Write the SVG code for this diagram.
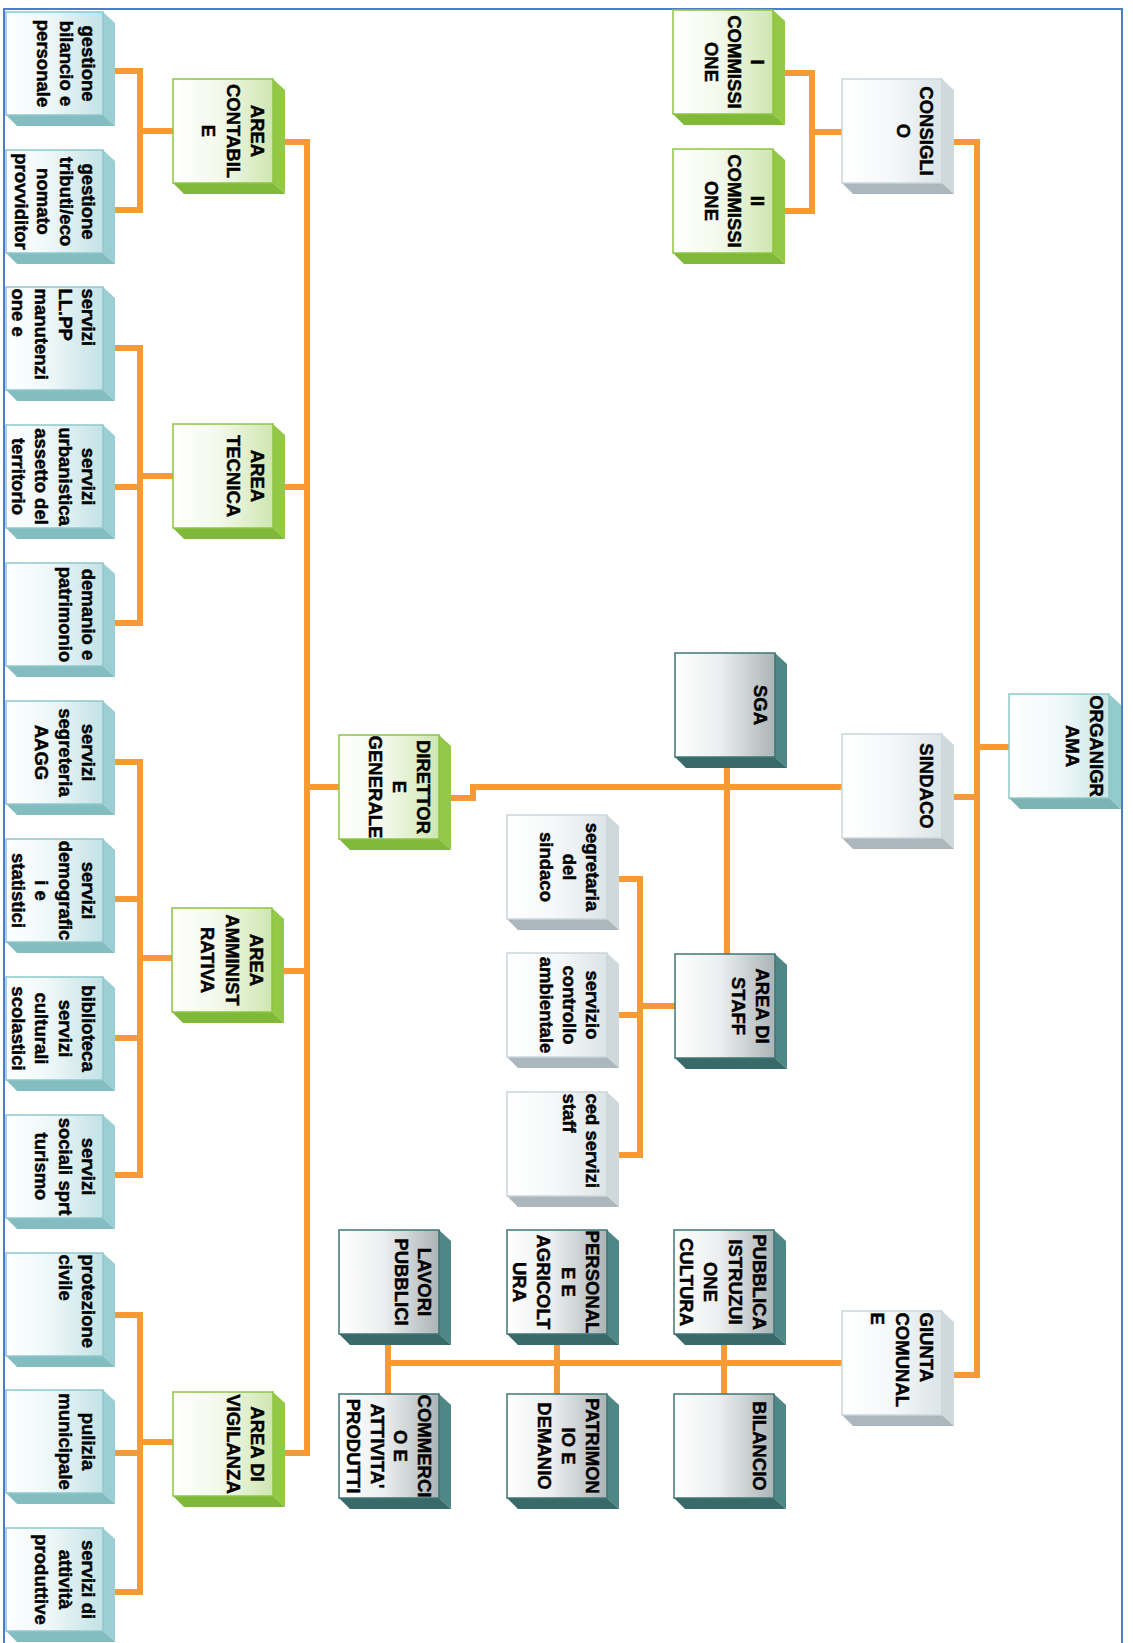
<svg xmlns="http://www.w3.org/2000/svg" xmlns:xlink="http://www.w3.org/1999/xlink" width="1133" height="1643" viewBox="0 0 1133 1643">
<defs>
<style>
.t{font-family:"Liberation Sans",Arial,Helvetica,sans-serif;font-weight:bold;font-size:18.5px;fill:#000;stroke:#000;stroke-width:0.45;text-anchor:middle}
.s{text-anchor:start}
.con{fill:none;stroke:#F59A35;stroke-width:6;stroke-linejoin:miter;stroke-linecap:butt}
.border{fill:none;stroke:#4A7ECB;stroke-width:2}
</style>
<linearGradient id="gGreen" x1="0" y1="0" x2="1" y2="0"><stop offset="0" stop-color="#ffffff"/><stop offset="0.45" stop-color="#f4f9ec"/><stop offset="1" stop-color="#cfe6b0"/></linearGradient>
<linearGradient id="gLeaf" x1="0" y1="0" x2="1" y2="0"><stop offset="0" stop-color="#ffffff"/><stop offset="0.45" stop-color="#eef7f8"/><stop offset="1" stop-color="#c3e2e5"/></linearGradient>
<linearGradient id="gWhite" x1="0" y1="0" x2="1" y2="0"><stop offset="0" stop-color="#ffffff"/><stop offset="0.5" stop-color="#f5f8f9"/><stop offset="1" stop-color="#dce4e7"/></linearGradient>
<linearGradient id="gOrg" x1="0" y1="0" x2="1" y2="0"><stop offset="0" stop-color="#ffffff"/><stop offset="0.5" stop-color="#f1f8f8"/><stop offset="1" stop-color="#c9e6e6"/></linearGradient>
<linearGradient id="gDark" x1="0" y1="0" x2="1" y2="0"><stop offset="0" stop-color="#ffffff"/><stop offset="0.45" stop-color="#eceeef"/><stop offset="1" stop-color="#abb4b6"/></linearGradient>
<g id="bGreen"><polygon points="100,0 112,11 112,115 100,104" fill="#94c948"/><polygon points="0,104 100,104 112,115 11,115" fill="#80b83a"/><rect x="0" y="0" width="100" height="104" fill="url(#gGreen)" stroke="#8cc540" stroke-width="1.5"/></g>
<g id="bLeaf"><polygon points="97,0 109,11 109,114 97,103" fill="#9ccfd3"/><polygon points="0,103 97,103 109,114 11,114" fill="#84bdc1"/><rect x="0" y="0" width="97" height="103" fill="url(#gLeaf)" stroke="#8fc8cc" stroke-width="1.5"/></g>
<g id="bWhite"><polygon points="100,0 112,11 112,115 100,104" fill="#cfd9dc"/><polygon points="0,104 100,104 112,115 11,115" fill="#abb7bc"/><rect x="0" y="0" width="100" height="104" fill="url(#gWhite)" stroke="#cbd6da" stroke-width="1.5"/></g>
<g id="bOrg"><polygon points="100,0 112,11 112,115 100,104" fill="#92cbcb"/><polygon points="0,104 100,104 112,115 11,115" fill="#7bb3b3"/><rect x="0" y="0" width="100" height="104" fill="url(#gOrg)" stroke="#8fc9c9" stroke-width="1.5"/></g>
<g id="bDark"><polygon points="100,0 112,11 112,115 100,104" fill="#4f8686"/><polygon points="0,104 100,104 112,115 11,115" fill="#386a6a"/><rect x="0" y="0" width="100" height="104" fill="url(#gDark)" stroke="#3f7575" stroke-width="1.5"/></g>
</defs>
<rect x="0" y="0" width="1133" height="1643" fill="#ffffff"/>
<path class="border" d="M4,1643 V9 H1122 V1643"/>

<g id="connectors">
<path class="con" d="M115,71 H140 V210 H115 M140,131 H173"/>
<path class="con" d="M115,348 H140 V623 H115 M115,487 H140 M140,476 H173"/>
<path class="con" d="M115,762 H140 V1175 H115 M115,899 H140 M115,1038 H140 M140,958 H172"/>
<path class="con" d="M115,1315 H140 V1592 H115 M115,1453 H140 M140,1442 H173"/>
<path class="con" d="M285,142 H307 V1453 H285 M285,487 H307 M284,971 H307 M307,787 H339"/>
<path class="con" d="M451,798 H473 V787 H842"/>
<path class="con" d="M727,768 V954"/>
<path class="con" d="M675,1006 H640 M619,879 H640 V1155 H619 M619,1015 H640"/>
<path class="con" d="M954,142 H977 V1375 H954 M977,747 H1009 M954,797 H977"/>
<path class="con" d="M842,132 H812 M785,73 H812 V211 H785"/>
<path class="con" d="M842,1363 H388 M388,1345 V1394 M557,1345 V1394 M724,1345 V1394"/>
</g>

<g id="n-organigramma"><use xlink:href="#bOrg" x="1009" y="694"/><text class="t" transform="translate(1090,746) rotate(90)"><tspan x="0" dy="0">ORGANIGR</tspan><tspan x="0" dy="24">AMA</tspan></text></g>
<g id="n-consiglio"><use xlink:href="#bWhite" x="842" y="79"/><text class="t" transform="translate(920,131) rotate(90)"><tspan x="0" dy="0">CONSIGLI</tspan><tspan x="0" dy="23">O</tspan></text></g>
<g id="n-commissione1"><use xlink:href="#bGreen" x="673" y="10"/><text class="t" transform="translate(751,62) rotate(90)"><tspan x="0" dy="0">I</tspan><tspan x="0" dy="23">COMMISSI</tspan><tspan x="0" dy="23">ONE</tspan></text></g>
<g id="n-commissione2"><use xlink:href="#bGreen" x="673" y="149"/><text class="t" transform="translate(751,201) rotate(90)"><tspan x="0" dy="0">II</tspan><tspan x="0" dy="23">COMMISSI</tspan><tspan x="0" dy="23">ONE</tspan></text></g>
<g id="n-sindaco"><use xlink:href="#bWhite" x="842" y="734"/><text class="t" transform="translate(920,786) rotate(90)"><tspan x="0" dy="0">SINDACO</tspan></text></g>
<g id="n-giunta"><use xlink:href="#bWhite" x="842" y="1311"/><text class="t s" transform="translate(920,1312.5) rotate(90)"><tspan x="0" dy="0">GIUNTA</tspan><tspan x="0" dy="24.5">COMUNAL</tspan><tspan x="0" dy="24.5">E</tspan></text></g>
<g id="n-sga"><use xlink:href="#bDark" x="675" y="653"/><text class="t" transform="translate(754,705) rotate(90)"><tspan x="0" dy="0">SGA</tspan></text></g>
<g id="n-staff"><use xlink:href="#bDark" x="675" y="954"/><text class="t" transform="translate(756,1006) rotate(90)"><tspan x="0" dy="0">AREA DI</tspan><tspan x="0" dy="24">STAFF</tspan></text></g>
<g id="n-segretaria"><use xlink:href="#bWhite" x="507" y="815"/><text class="t" transform="translate(586,867) rotate(90)"><tspan x="0" dy="0">segretaria</tspan><tspan x="0" dy="23">del</tspan><tspan x="0" dy="23">sindaco</tspan></text></g>
<g id="n-ambientale"><use xlink:href="#bWhite" x="507" y="953"/><text class="t" transform="translate(586,1005) rotate(90)"><tspan x="0" dy="0">servizio</tspan><tspan x="0" dy="23">controllo</tspan><tspan x="0" dy="23">ambientale</tspan></text></g>
<g id="n-ced"><use xlink:href="#bWhite" x="507" y="1092"/><text class="t s" transform="translate(586,1093.5) rotate(90)"><tspan x="0" dy="0">ced servizi</tspan><tspan x="0" dy="23">staff</tspan></text></g>
<g id="n-pubblica"><use xlink:href="#bDark" x="674" y="1230"/><text class="t" transform="translate(753,1282) rotate(90)"><tspan x="0" dy="0">PUBBLICA</tspan><tspan x="0" dy="24.3">ISTRUZUI</tspan><tspan x="0" dy="24.3">ONE</tspan><tspan x="0" dy="24.3">CULTURA</tspan></text></g>
<g id="n-personale"><use xlink:href="#bDark" x="507" y="1230"/><text class="t" transform="translate(586,1282) rotate(90)"><tspan x="0" dy="0">PERSONAL</tspan><tspan x="0" dy="24.3">E E</tspan><tspan x="0" dy="24.3">AGRICOLT</tspan><tspan x="0" dy="24.3">URA</tspan></text></g>
<g id="n-lavori"><use xlink:href="#bDark" x="339" y="1230"/><text class="t" transform="translate(418,1282) rotate(90)"><tspan x="0" dy="0">LAVORI</tspan><tspan x="0" dy="23.5">PUBBLICI</tspan></text></g>
<g id="n-bilancio"><use xlink:href="#bDark" x="674" y="1394"/><text class="t" transform="translate(753,1446) rotate(90)"><tspan x="0" dy="0">BILANCIO</tspan></text></g>
<g id="n-patrimonio"><use xlink:href="#bDark" x="507" y="1394"/><text class="t" transform="translate(586,1446) rotate(90)"><tspan x="0" dy="0">PATRIMON</tspan><tspan x="0" dy="24">IO E</tspan><tspan x="0" dy="24">DEMANIO</tspan></text></g>
<g id="n-commercio"><use xlink:href="#bDark" x="339" y="1394"/><text class="t" transform="translate(418,1446) rotate(90)"><tspan x="0" dy="0">COMMERCI</tspan><tspan x="0" dy="23.7">O E</tspan><tspan x="0" dy="23.7">ATTIVITA'</tspan><tspan x="0" dy="23.7">PRODUTTI</tspan></text></g>
<g id="n-direttore"><use xlink:href="#bGreen" x="339" y="735"/><text class="t" transform="translate(417,787) rotate(90)"><tspan x="0" dy="0">DIRETTOR</tspan><tspan x="0" dy="24">E</tspan><tspan x="0" dy="24">GENERALE</tspan></text></g>
<g id="n-area-contabile"><use xlink:href="#bGreen" x="173" y="79"/><text class="t" transform="translate(251,131) rotate(90)"><tspan x="0" dy="0">AREA</tspan><tspan x="0" dy="24.5">CONTABIL</tspan><tspan x="0" dy="24.5">E</tspan></text></g>
<g id="n-area-tecnica"><use xlink:href="#bGreen" x="173" y="424"/><text class="t" transform="translate(251,476) rotate(90)"><tspan x="0" dy="0">AREA</tspan><tspan x="0" dy="24.5">TECNICA</tspan></text></g>
<g id="n-area-amministrativa"><use xlink:href="#bGreen" x="172" y="908"/><text class="t" transform="translate(250,960) rotate(90)"><tspan x="0" dy="0">AREA</tspan><tspan x="0" dy="24.5">AMMINIST</tspan><tspan x="0" dy="24.5">RATIVA</tspan></text></g>
<g id="n-area-vigilanza"><use xlink:href="#bGreen" x="173" y="1392"/><text class="t" transform="translate(251,1444) rotate(90)"><tspan x="0" dy="0">AREA DI</tspan><tspan x="0" dy="24.5">VIGILANZA</tspan></text></g>

<g id="n-gestione-bilancio"><use xlink:href="#bLeaf" x="6" y="12"/><text class="t" transform="translate(82,63.5) rotate(90)"><tspan x="0" dy="0">gestione</tspan><tspan x="0" dy="22.5">bilancio e</tspan><tspan x="0" dy="22.5">personale</tspan></text></g>
<g id="n-gestione-tributi"><use xlink:href="#bLeaf" x="6" y="150"/><text class="t" transform="translate(82,201.5) rotate(90)"><tspan x="0" dy="0">gestione</tspan><tspan x="0" dy="22.5">tributi/eco</tspan><tspan x="0" dy="22.5">nomato</tspan><tspan x="0" dy="22.5">provviditor</tspan></text></g>
<g id="n-llpp"><use xlink:href="#bLeaf" x="6" y="287"/><text class="t s" transform="translate(82,288.5) rotate(90)"><tspan x="0" dy="0">servizi</tspan><tspan x="0" dy="23.3">LL.PP</tspan><tspan x="0" dy="23.3">manutenzi</tspan><tspan x="0" dy="23.3">one e</tspan></text></g>
<g id="n-urbanistica"><use xlink:href="#bLeaf" x="6" y="425"/><text class="t" transform="translate(82,476.5) rotate(90)"><tspan x="0" dy="0">servizi</tspan><tspan x="0" dy="23.3">urbanistica</tspan><tspan x="0" dy="23.3">assetto del</tspan><tspan x="0" dy="23.3">territorio</tspan></text></g>
<g id="n-demanio"><use xlink:href="#bLeaf" x="6" y="563"/><text class="t" transform="translate(82,614.5) rotate(90)"><tspan x="0" dy="0">demanio e</tspan><tspan x="0" dy="23.3">patrimonio</tspan></text></g>
<g id="n-segreteria"><use xlink:href="#bLeaf" x="6" y="701"/><text class="t" transform="translate(82,752.5) rotate(90)"><tspan x="0" dy="0">servizi</tspan><tspan x="0" dy="23.3">segreteria</tspan><tspan x="0" dy="23.3">AAGG</tspan></text></g>
<g id="n-demografici"><use xlink:href="#bLeaf" x="6" y="839"/><text class="t" transform="translate(82,890.5) rotate(90)"><tspan x="0" dy="0">servizi</tspan><tspan x="0" dy="23.3">demografic</tspan><tspan x="0" dy="23.3">i e</tspan><tspan x="0" dy="23.3">statistici</tspan></text></g>
<g id="n-biblioteca"><use xlink:href="#bLeaf" x="6" y="977"/><text class="t" transform="translate(82,1028.5) rotate(90)"><tspan x="0" dy="0">biblioteca</tspan><tspan x="0" dy="23.3">servizi</tspan><tspan x="0" dy="23.3">culturali</tspan><tspan x="0" dy="23.3">scolastici</tspan></text></g>
<g id="n-sociali"><use xlink:href="#bLeaf" x="6" y="1115"/><text class="t" transform="translate(82,1166.5) rotate(90)"><tspan x="0" dy="0">servizi</tspan><tspan x="0" dy="23.3">sociali sprt</tspan><tspan x="0" dy="23.3">turismo</tspan></text></g>
<g id="n-protezione"><use xlink:href="#bLeaf" x="6" y="1253"/><text class="t s" transform="translate(82,1254.5) rotate(90)"><tspan x="0" dy="0">protezione</tspan><tspan x="0" dy="23.3">civile</tspan></text></g>
<g id="n-pulizia"><use xlink:href="#bLeaf" x="6" y="1390"/><text class="t" transform="translate(82,1441.5) rotate(90)"><tspan x="0" dy="0">pulizia</tspan><tspan x="0" dy="23.3">municipale</tspan></text></g>
<g id="n-attivita"><use xlink:href="#bLeaf" x="6" y="1528"/><text class="t" transform="translate(82,1579.5) rotate(90)"><tspan x="0" dy="0">servizi di</tspan><tspan x="0" dy="23.3">attività</tspan><tspan x="0" dy="23.3">produttive</tspan></text></g>
</svg>
